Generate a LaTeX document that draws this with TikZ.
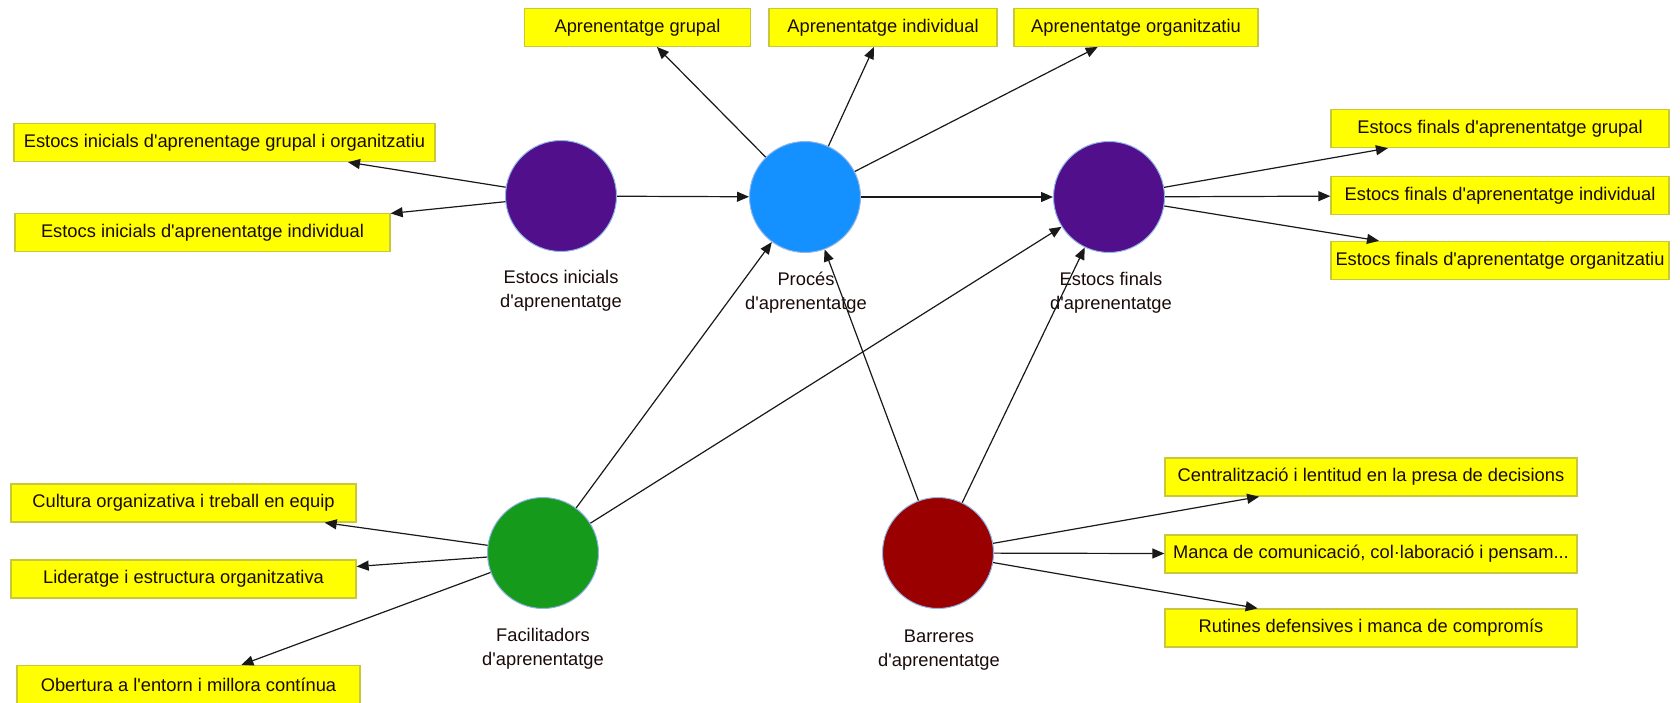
\documentclass[tikz,border=0pt]{standalone}
\usepackage{fontspec}
\setmainfont{Liberation Sans}
\usetikzlibrary{arrows.meta}

% straight apostrophe, as typed
\newcommand{\ap}{\textquotesingle}

\definecolor{boxfill}{HTML}{FFFF00}
\definecolor{boxline}{HTML}{C8C83A}
\definecolor{ringline}{HTML}{8FB4E8}
\definecolor{stockpurple}{HTML}{510F8B}
\definecolor{processblue}{HTML}{1591FF}
\definecolor{enablergreen}{HTML}{169A1B}
\definecolor{barrierred}{HTML}{9B0000}
\definecolor{inktext}{HTML}{1A0A0A}

\tikzset{
  construct/.style={circle, draw=ringline, line width=1pt, minimum size=111pt, inner sep=0pt},
  indicator/.style={rectangle, draw=boxline, line width=1.3pt, fill=boxfill,
    minimum height=38pt, inner sep=0pt, text=inktext},
  caption/.style={align=center, text=inktext, inner sep=0pt},
  link/.style={draw=black!90, line width=1.2pt, -{Triangle[length=12pt,width=10pt]}}
}

\begin{document}
\begin{tikzpicture}[x=1pt, y=-1pt, font=\fontsize{18.3}{24}\selectfont]
\useasboundingbox (0,0) rectangle (1680,703);

% latent constructs
\node[construct, fill=stockpurple]  (ei) at (561,196) {};
\node[construct, fill=processblue]  (pr) at (805,197) {};
\node[construct, fill=stockpurple]  (ef) at (1109,197) {};
\node[construct, fill=enablergreen] (fa) at (543,553) {};
\node[construct, fill=barrierred]   (ba) at (938,553) {};

% construct captions
\node[caption] (eiCap) at (561,291) {Estocs inicials\\d\ap aprenentatge};
\node[caption] (prCap) at (806,293) {Procés\\d\ap aprenentatge};
\node[caption] (efCap) at (1111,293) {Estocs finals\\d\ap aprenentatge};
\node[caption] (faCap) at (543,649) {Facilitadors\\d\ap aprenentatge};
\node[caption] (baCap) at (939,650) {Barreres\\d\ap aprenentatge};

% indicators
\node[indicator, minimum width=226pt] (ag) at (637.5,27.3) {Aprenentatge grupal};
\node[indicator, minimum width=228pt] (ai) at (883,27.3) {Aprenentatge individual};
\node[indicator, minimum width=244pt] (ao) at (1136,27.3) {Aprenentatge organitzatiu};

\node[indicator, minimum width=421pt] (eig) at (224.5,142.5) {Estocs inicials d\ap aprenentage grupal i organitzatiu};
\node[indicator, minimum width=375pt] (eii) at (202.5,232.5) {Estocs inicials d\ap aprenentatge individual};

\node[indicator, minimum width=338pt] (efg) at (1500,128.5) {Estocs finals d\ap aprenentatge grupal};
\node[indicator, minimum width=338pt] (efi) at (1500,195.5) {Estocs finals d\ap aprenentatge individual};
\node[indicator, minimum width=338pt] (efo) at (1500,260.5) {Estocs finals d\ap aprenentatge organitzatiu};

\node[indicator, minimum width=345pt] (cu) at (183.5,503) {Cultura organizativa i treball en equip};
\node[indicator, minimum width=345pt] (li) at (183.5,579) {Lideratge i estructura organitzativa};
\node[indicator, minimum width=343pt] (ob) at (188.5,684.5) {Obertura a l\ap entorn i millora contínua};

\node[indicator, minimum width=412pt] (ce) at (1371,477) {Centralització i lentitud en la presa de decisions};
\node[indicator, minimum width=412pt] (ma) at (1371,554) {Manca de comunicació, col·laboració i pensam...};
\node[indicator, minimum width=412pt] (ru) at (1371,628) {Rutines defensives i manca de compromís};

% structural paths
\draw[link] (ei) -- (pr);
\draw[link] (pr) -- (ef);
\draw[link] (fa) -- (pr);
\draw[link] (fa) -- (ef);
\draw[link] (ba) -- (pr);
\draw[link] (ba) -- (ef);

% measurement paths
\draw[link] (ei) -- (eig);
\draw[link] (ei) -- (eii);
\draw[link] (pr) -- (ag);
\draw[link] (pr) -- (ai);
\draw[link] (pr) -- (ao);
\draw[link] (ef) -- (efg);
\draw[link] (ef) -- (efi);
\draw[link] (ef) -- (efo);
\draw[link] (fa) -- (cu);
\draw[link] (fa) -- (li);
\draw[link] (fa) -- (ob);
\draw[link] (ba) -- (ce);
\draw[link] (ba) -- (ma);
\draw[link] (ba) -- (ru);
\end{tikzpicture}
\end{document}
